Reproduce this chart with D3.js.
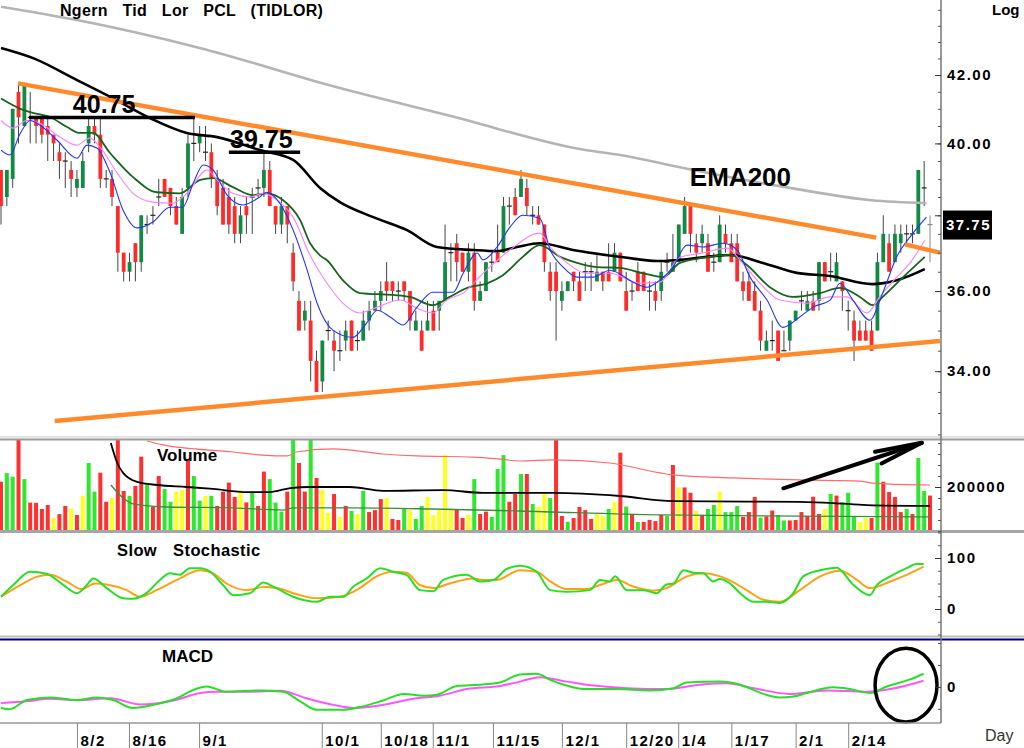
<!DOCTYPE html>
<html>
<head>
<meta charset="utf-8">
<script src="https://cdn.jsdelivr.net/npm/d3@7"></script>
<style>
body { margin: 0; background: #fff; }
svg { display: block; font-family: "Liberation Sans", Arial, sans-serif; }
</style>
</head>
<body>
<svg id="chart"></svg>
<script>
// daily OHLC, one entry per trading day
const opens = [39.25,38.5,39,41.5,40.5,40.75,40.75,40.75,40.5,40.25,39.75,39.5,39.25,38.75,38.75,40,40.5,40.25,39,39,
  38.25,37,36.5,37.25,36.75,37.75,38,38.5,39,38.75,38.25,37.5,38.75,40,40,39.75,39.75,39,38.75,38.5,
  38.25,37.5,38.25,38.5,38.75,38.75,39.25,38.25,37.75,38.25,37,35.75,35.25,35.25,34.25,33.75,35,34.75,34.5,34.75,
  35.25,34.75,34.75,35.25,35.5,35.75,36.25,36.25,36,36.25,36,35,35,35,35.5,35.5,35.75,37,37.25,37,
  36.5,37,35.75,36,36.75,37,37,38.25,38.5,38.5,38.75,38,38,37.75,36.5,36.5,35.75,36,36.5,36.25,
  36.5,36.5,36.25,36.5,36.5,36.5,37,36,36,36.5,36.5,36,36,36,36.75,36.5,36.75,37.5,38.25,37.25,
  37.25,37.25,36.75,36.75,37.5,37.25,37.25,36.25,36.25,36,35.5,34.5,34.75,35,34.5,34.75,35.25,35.75,35.5,35.75,
  35.75,36.75,36.5,36.25,36.25,35.5,35.25,35,35,35,35,36.75,37.25,36.75,37.25,37.5,37.5,37.5,38.75,37.75];
const highs = [39.25,39.25,41,41.75,41.75,41.5,40.75,40.75,40.75,40.25,40,39.75,39.5,39.25,39.75,40.75,40.75,40.75,39.25,39.25,
  38.25,37,37,37.25,38,38,38.25,39,39,38.75,38.5,38.75,40.25,40.75,40.5,40.5,40,39.25,39,38.75,
  38.5,38.25,38.5,38.75,39,39.75,39.5,38.25,38.5,38.25,37.25,36,35.75,35.75,34.5,34.75,35.25,35,35,35.25,
  35.25,35,35.5,35.75,36,36.25,36.75,36.25,36.25,36.25,36,35.5,35.25,35.75,35.75,35.75,37.75,37.25,37.5,37,
  37.25,37.25,36.25,36.75,37,37.75,38.5,38.5,38.75,39.25,39,38.25,38.25,37.75,36.75,36.75,36.25,36.25,36.5,36.5,
  36.75,36.75,37,36.5,37.25,37.25,37,36.5,36.25,36.75,36.5,36.25,36.25,36.75,37,37.5,37.75,38.5,38.25,37.5,
  37.75,37.5,37,38,37.75,37.5,37.5,36.5,36.5,36.25,35.75,35,35.25,35,35,35.25,35.5,36,36,36,
  36.75,36.75,37,37,36.25,35.75,35.5,35.25,35.25,35.25,37,38,37.5,37.75,37.75,37.75,37.75,39.25,39.5,38];
const lows = [37.75,38.25,38.75,40,40.5,40,40,40,39.5,39.5,39,38.75,38.5,38.5,38.75,39.75,40,38.75,38.75,38.25,
  36.5,36.25,36.25,36.25,36.5,37.5,37.75,38.25,38.5,38,37.75,37.5,38.5,39.5,39.75,39.5,38.75,38,37.75,37.5,
  37.25,37.25,37.5,37.5,38.5,38.5,38.25,37.5,37.5,37.25,36,35,35,33.75,33.5,33.5,34.75,34,34.25,34.5,
  34.5,34.5,34.75,35,35.5,35.5,35.75,35.75,35.75,35.75,35,35,34.5,35,35,35,35.75,36.25,36.25,36.5,
  36.25,35.5,35.75,36,36.5,36.75,37,37.75,38,38.5,38,37.75,37.75,36.5,35.75,34.75,35.5,36,36,35.75,
  36,36,36.25,36,36.25,36.5,36.25,35.5,35.75,36,36,35.5,35.5,35.75,36.5,36.5,36.75,37.5,37,36.75,
  37,36.5,36.5,36.75,37,36.75,36.25,35.75,35.75,35.5,34.5,34.5,34.5,34.25,34.5,34.5,35.25,35.5,35.5,35.5,
  35.5,36.25,36.25,36.25,35.5,35,34.25,34.75,34.75,34.5,35,36.75,36.5,36.75,37,37.25,37.25,37.5,38.25,36.75];
const closes = [38.25,39.25,41,40.75,41.75,40.75,40.5,40.25,40.25,40,39.5,39.5,39,39,39.5,40.5,40.25,39,39,38.5,
  37,36.5,36.75,36.75,38,37.75,38,38.5,38.5,38.25,37.75,38.5,40,40,40.25,39.75,39,38.25,37.75,37.75,
  37.5,38,38,38.5,38.75,39.25,38.25,37.75,38.25,37.75,36.25,35,35.5,34.25,33.5,34.75,35,34.5,34.5,35,
  34.5,34.75,35.25,35.5,35.75,36,36,36,36,36,35.25,35.25,34.5,35.25,35,35.75,36.75,37,36.75,36.5,
  37,35.75,36,36.75,36.75,36.75,38.25,38.25,38,39,38.25,38,37.75,36.75,36,36,36,36.25,36.25,35.75,
  36.5,36.5,36.5,36.25,36.25,37,36.25,35.5,36,36,36,36,35.75,36.5,36.75,36.75,37.75,38.25,37.5,37,
  37.5,36.5,36.75,37.75,37.25,36.75,36.25,36,35.75,35.5,34.75,34.75,34.75,34.25,34.5,35.25,35.5,35.75,35.75,35.5,
  36.75,36.25,36.5,36.75,36,35.5,34.75,34.75,34.75,34.5,36.75,37.5,36.5,37.5,37.5,37.5,37.5,39.25,38.75,37.75];

// volume (thousand shares) and bar colour class: u = up, d = down, n = unchanged
const volume = [224,263,247,430,236,129,128,100,118,59,77,114,102,73,160,309,179,265,133,150,
  430,182,160,205,338,213,111,250,191,133,179,186,327,250,138,159,160,114,179,220,
  155,186,130,174,114,270,236,129,88,179,430,309,179,430,241,186,83,168,64,114,
  91,77,182,86,95,145,150,55,50,102,95,55,114,155,73,95,345,102,100,59,
  73,236,77,88,64,282,345,133,168,259,259,123,111,168,150,430,68,42,59,109,
  95,55,80,68,100,133,356,111,77,41,41,50,45,73,68,300,198,198,174,91,
  73,100,118,179,86,86,114,64,86,155,61,66,93,73,48,48,50,86,68,156,
  77,100,168,161,130,174,64,41,59,59,311,224,177,155,86,100,77,332,182,161];
const volDir = "duududdddnddndnuuddnd" +
  "duddudduunnduunuddddndudduuududdudnndn" +
  "dunudddnddunuunnnnnddnudduuuddudunnudd" +
  "uddddnnundududdddudnddnduunuuudddudduud" +
  "dddddnuduuunndudddduduudnudu";

// moving averages: [day index, price]
const ema200 = [[0,44.1],[13,43.68],[34,42.82],[58,41.61],[77,40.79],[100,39.81],[106,39.67],[116,39.33],[123,39.1],[135,38.75],[149,38.41],[158.4,38.33]];
const maBlack = [[0,42.82],[5.5,42.51],[13,41.85],[18.7,41.35],[25.5,40.73],[31.8,40.3],[37,40.18],[44.3,39.81],[50,39.53],[54.6,38.75],[58,38.36],[63.7,37.95],[69.5,37.6],[74.6,37.15],[80.8,37.07],[84.9,37.04],[88.3,37.15],[92.2,37.25],[97.9,37.07],[106.5,36.88],[112.3,36.78],[116.2,36.81],[124.8,36.94],[130.4,36.73],[136.2,36.47],[141.9,36.39],[149.1,36.18],[153.3,36.28],[158.1,36.57]];
const maGreen = [[0,41.3],[3.3,41.0],[5,40.9],[8.4,40.76],[11.3,40.47],[13.5,40.3],[15.7,40.3],[18.7,39.72],[22.6,39.05],[26.7,38.63],[30.6,38.6],[34.1,38.97],[36.3,39.02],[39.7,38.77],[43.1,38.55],[45.5,38.6],[48.3,38.41],[51.2,37.87],[52.9,37.25],[54.6,36.93],[55.8,36.8],[58.5,36.28],[61.4,35.95],[67.1,35.9],[70,35.85],[73.9,35.64],[76.8,35.85],[79.8,36.08],[83.2,36.2],[85.9,36.41],[89.3,36.89],[92.2,37.2],[95.7,36.89],[98.6,36.73],[102,36.62],[105.9,36.6],[109.9,36.46],[113.3,36.36],[116.2,36.73],[120.1,36.86],[124.8,36.94],[127.7,36.67],[131.6,36.1],[135.5,35.85],[140.2,35.95],[143.6,36.08],[147,35.85],[149.2,35.64],[150.9,35.85],[154.4,36.36],[158.1,36.89]];
const maPink = [[0,40.66],[2.1,40.44],[4.4,40.66],[6.7,40.57],[10.1,40.18],[13,39.95],[15.2,40.15],[16.9,39.9],[19.9,39.16],[22.6,38.6],[26,38.36],[29.4,38.33],[31.8,38.6],[35.3,39.25],[37,38.97],[39.7,38.6],[42.6,38.5],[44.8,38.6],[47.7,38.36],[50,37.95],[52.9,36.93],[55.8,36.2],[58.5,35.69],[61.4,35.44],[64.4,35.59],[68.3,35.77],[71.2,35.56],[73.9,35.44],[76.3,35.77],[79.1,35.95],[82.5,36.46],[87.1,37.07],[92.2,37.52],[94,37.15],[96.9,36.73],[100.3,36.46],[104.2,36.46],[109.4,36.2],[112.8,36.23],[116.2,36.88],[120.1,36.99],[124.3,37.12],[126.5,36.8],[129.9,36.2],[133.3,35.77],[137.9,35.69],[141.9,35.85],[144.8,35.85],[148.2,35.44],[150.4,35.85],[153.3,36.36],[155.6,36.73],[158.1,37.33]];
const maBlue = [[0,39.81],[1.5,39.67],[3.3,40.29],[5,40.66],[6.7,40.52],[9.6,40.09],[13,39.58],[14.7,39.95],[16.4,39.87],[18.7,39.16],[20.9,38.14],[23.3,37.66],[26,37.82],[28.9,38.22],[31.1,38.22],[32.9,38.88],[34.6,39.39],[36.3,39.25],[38.7,38.55],[41.4,38.28],[44.3,38.5],[45.5,38.63],[47.7,38.33],[50,37.6],[52.4,36.54],[54.1,35.69],[56.8,35.01],[60.2,34.83],[62.6,35.19],[64.4,35.51],[66.6,35.34],[68.8,35.14],[71.2,35.59],[73.9,35.97],[77.4,35.97],[79.1,36.46],[81.5,36.99],[82.5,36.81],[84.9,37.15],[87.1,37.68],[89.3,38.0],[92.2,37.92],[94,37.07],[96.2,36.62],[98.6,36.36],[101.3,36.36],[104.2,36.54],[108.2,36.23],[110.6,36.1],[112.3,36.23],[115,36.62],[117.4,37.2],[120.1,37.15],[123.6,37.25],[126,37.07],[128.2,36.36],[131.1,35.77],[133.8,35.08],[136.7,35.34],[139,35.59],[141.9,35.77],[143.6,36.2],[145.8,35.77],[148.7,35.26],[150.9,35.95],[153.3,36.89],[156.1,37.52],[158.4,37.95]];

// volume averages: [day index, thousand shares]
const volAvgRed = [[25,409],[27.7,391],[39.7,359],[44.8,345],[49,341],[50.5,359],[56.8,373],[65.4,350],[71.2,341],[80.8,336],[85.4,327],[88.8,318],[94.5,323],[104.2,309],[112.8,264],[115,255],[125.3,241],[136.7,232],[147,227],[149.2,218],[159,209]];
const volAvgBlack = [[18.8,400],[19.9,309],[20.9,264],[23.3,223],[26.7,209],[31.8,200],[36.3,191],[42.1,177],[46,177],[49.5,195],[52.9,200],[59.7,200],[65.4,182],[75.7,186],[82.5,173],[94.5,173],[105.9,159],[115,136],[136.7,132],[142.4,127],[148.2,118],[159,114]];
const volAvgGreen = [[18.8,209],[20.9,150],[22.6,123],[28.4,109],[39.7,105],[48.3,95],[50,105],[59.7,105],[73.9,100],[88.8,91],[112.8,73],[136.7,68],[159,64]];

// slow stochastic %K and %D
const stochK = [[0,24],[2.1,47],[5,73],[7.8,69],[10.7,47],[13,31],[14.7,47],[15.8,60],[18.1,41],[20.9,21],[22.6,20],[24.9,31],[27.2,57],[28.9,70],[30.6,67],[32.3,80],[34.1,80],[35.8,73],[38,47],[39.8,27],[42.6,31],[44.9,52],[46.6,44],[50,24],[54,14],[56.3,24],[58.6,24],[60.3,44],[62.6,60],[64.9,80],[67.1,73],[69.4,67],[71.7,37],[74,35],[75.7,57],[79.7,67],[82,54],[84.3,57],[86.5,78],[88.8,85],[91.7,73],[94,37],[96.8,34],[100.8,37],[102.5,57],[104.2,54],[105.1,64],[107.1,37],[109.9,37],[112.2,31],[113.9,48],[115.1,50],[116.8,76],[118.5,71],[120.2,70],[121.9,54],[123,59],[124.8,50],[126.5,31],[128.8,14],[131,14],[133.3,12],[135.6,31],[137.3,64],[140.2,76],[143,81],[145.9,47],[148.7,27],[149.9,47],[152.2,64],[155,80],[156.7,88],[157.9,88]];
const stochD = [[0,24],[3.3,47],[6.1,63],[8.4,67],[11.2,54],[13.8,39],[16.1,50],[18.1,48],[21.5,37],[23.8,24],[26.6,37],[30.1,57],[34.1,76],[36.3,70],[38.6,50],[42,37],[44.9,43],[47.2,41],[51.2,27],[54,21],[58,24],[61.4,41],[64.3,64],[67.1,73],[69.4,71],[71.7,47],[74,41],[76.8,50],[80.8,60],[82.5,57],[84.8,57],[88.8,76],[91.7,73],[94,54],[96.8,39],[100.2,39],[102.5,47],[105.4,57],[108.2,44],[111.6,36],[113.9,41],[117.4,64],[120.2,70],[124.2,59],[127.6,37],[130.5,18],[133.3,14],[136.7,37],[140.2,64],[143.6,75],[146.5,57],[148.7,41],[152.2,54],[155,67],[157.9,83]];

// MACD line and signal line
const macdLine = [[0,-0.48],[1.5,-0.51],[4.4,-0.3],[8.4,-0.24],[13,-0.3],[16.4,-0.24],[19.2,-0.3],[22.6,-0.48],[26.1,-0.41],[30.1,-0.26],[32.9,-0.07],[35.2,0.01],[38.6,-0.11],[44.3,-0.08],[48.3,-0.11],[51.2,-0.33],[54,-0.52],[58.6,-0.52],[61.4,-0.46],[65.4,-0.31],[68.9,-0.16],[72.3,-0.2],[74.6,-0.18],[78,0.02],[82,0.05],[85.4,0.1],[88.8,0.28],[91.7,0.3],[94,0.16],[96.8,0.03],[99.7,-0.05],[105.4,-0.05],[111.1,-0.08],[115.1,-0.03],[117.4,0.1],[123,0.12],[126.5,0.05],[130.5,-0.16],[133.3,-0.24],[135.6,-0.22],[137.9,-0.14],[142.4,-0.01],[145.3,-0.05],[148.7,-0.14],[151.6,0.01],[155.6,0.17],[157.9,0.3]];
const macdSignal = [[0,-0.37],[4.4,-0.33],[8.4,-0.27],[13,-0.3],[18.7,-0.26],[23.8,-0.4],[29.5,-0.31],[34.1,-0.14],[36.9,-0.11],[42.6,-0.11],[47.8,-0.09],[52.3,-0.26],[56.9,-0.41],[60.3,-0.48],[64.9,-0.42],[71.1,-0.26],[75.1,-0.2],[79.7,-0.05],[85.4,0.02],[88.8,0.12],[92.2,0.22],[96.8,0.12],[101.4,0.03],[107.1,-0.03],[113.9,-0.05],[119.6,0.05],[124.2,0.08],[128.8,-0.03],[135,-0.16],[141.3,-0.08],[148.2,-0.11],[152.2,-0.05],[157.9,0.14]];

// drawn annotations (day index, price)
const upperTrend = [[2.9,41.75],[149.8,37.4]];
const upperTrend2 = [[154.7,37.22],[160.7,37.0]];
const lowerTrend = [[9.2,32.81],[160.7,34.74]];
const levelLines = [{price: 40.75, from: 4.8, to: 33.2, labelAt: 12.3}, {price: 39.75, from: 39.0, to: 51.2, labelAt: 39.2}];
const lastPrice = 37.75;

// axis labels (38.00 sits under the last-price tag)
const dateLabels = ["8/2","8/16","9/1","10/1","10/18","11/1","11/15","12/1","12/20","1/4","1/17","2/1","2/14"];
const dateIdx = [13,21.9,33.9,54.9,65,73.9,84.2,96,107,115.9,125,136,145];
const priceMajor = [34, 36, 38, 40, 42];
const priceLabels = [34, 36, 40, 42];

const W = 1024, H = 748, AX = 941;
const svg = d3.select("#chart").attr("width", W).attr("height", H);

const x = d3.scaleLinear().domain([0, 159]).range([1, 930]);
const y = d3.scaleLog().domain([32.44, 44.31]).range([437, 0]);
const yv = d3.scaleLinear().domain([0, 409]).range([531, 441]);
const ys = d3.scaleLinear().domain([0, 100]).range([609, 558]);
const ym = d3.scaleLinear().domain([-0.8, 1.068]).range([722, 640]);

const defs = svg.append("defs");
[["cp-price", 0, 0, AX, 437], ["cp-vol", 0, 440, AX, 90], ["cp-st", 0, 533, AX, 103], ["cp-macd", 0, 640, AX, 83]]
  .forEach(([id, cx, cy, cw, ch]) => defs.append("clipPath").attr("id", id)
    .append("rect").attr("x", cx).attr("y", cy).attr("width", cw).attr("height", ch));

const line = (sc) => d3.line().x(d => x(d[0])).y(d => sc(d[1])).curve(d3.curveMonotoneX);
const bold = sel => sel.attr("font-weight", "bold").attr("fill", "#000");

// ---- price panel
const gP = svg.append("g").attr("clip-path", "url(#cp-price)");
const idx = d3.range(opens.length);
const last = opens.length - 1;

gP.append("g").selectAll("line").data(idx).join("line")
  .attr("x1", i => x(i)).attr("x2", i => x(i))
  .attr("y1", i => y(highs[i])).attr("y2", i => y(lows[i]))
  .attr("stroke", i => i === last ? "#888" : "#444").attr("stroke-width", 1);

gP.append("g").selectAll("rect").data(idx.filter(i => opens[i] !== closes[i])).join("rect")
  .attr("x", i => x(i) - 1.9).attr("width", 3.8)
  .attr("y", i => y(Math.max(opens[i], closes[i])))
  .attr("height", i => Math.abs(y(opens[i]) - y(closes[i])))
  .attr("fill", i => closes[i] > opens[i] ? "#138a43" : "#ff2b2b");

gP.append("g").selectAll("line").data(idx.filter(i => opens[i] === closes[i])).join("line")
  .attr("x1", i => x(i) - 2.5).attr("x2", i => x(i) + 2.5)
  .attr("y1", i => y(closes[i])).attr("y2", i => y(closes[i]))
  .attr("stroke", i => i === last ? "#888" : "#222").attr("stroke-width", 1.2);

[[ema200, "#b4b4b4", 2.6], [maBlack, "#000", 2.6], [maGreen, "#17651c", 1.8], [maPink, "#ff80ff", 1.1], [maBlue, "#2233ff", 1.1]]
  .forEach(([d, c, w]) => gP.append("path").attr("d", line(y)(d)).attr("fill", "none").attr("stroke", c).attr("stroke-width", w));

[upperTrend, upperTrend2, lowerTrend].forEach(d =>
  gP.append("path").attr("d", d3.line().x(p => x(p[0])).y(p => y(p[1]))(d))
    .attr("fill", "none").attr("stroke", "#ff8a2b").attr("stroke-width", 4.5));

levelLines.forEach(l => {
  gP.append("line").attr("x1", x(l.from)).attr("x2", x(l.to)).attr("y1", y(l.price)).attr("y2", y(l.price))
    .attr("stroke", "#000").attr("stroke-width", 3.5);
  gP.append("text").attr("x", x(l.labelAt)).attr("y", y(l.price) - 4).attr("font-size", 25)
    .call(bold).text(d3.format(".2f")(l.price));
});

svg.append("text").attr("x", x(117.9)).attr("y", y(38.8)).attr("font-size", 26).call(bold).text("EMA200");
svg.append("text").attr("x", 60).attr("y", 16).attr("font-size", 16).attr("word-spacing", 10).attr("letter-spacing", 0.3).call(bold)
  .text("Ngern Tid Lor PCL (TIDLOR)");
svg.append("text").attr("x", 992).attr("y", 15).attr("font-size", 15).call(bold).text("Log");

// ---- volume panel
const gV = svg.append("g").attr("clip-path", "url(#cp-vol)");
const volColor = {u: "#2ee82e", d: "#ff3030", n: "#ffff1a"};
gV.selectAll("rect").data(idx).join("rect")
  .attr("x", i => x(i) - 2).attr("width", 4)
  .attr("y", i => yv(volume[i])).attr("height", i => yv(0) - yv(volume[i]))
  .attr("fill", i => volColor[volDir[i]]);
[[volAvgRed, "#ff6a6a", 1.2], [volAvgGreen, "#3f8a3f", 1.3], [volAvgBlack, "#000", 1.8]].forEach(([d, c, w]) =>
  gV.append("path").attr("d", line(yv)(d)).attr("fill", "none").attr("stroke", c).attr("stroke-width", w));
svg.append("text").attr("x", 157).attr("y", 461).attr("font-size", 17).call(bold).text("Volume");

const volArrow = [[133.9, 194], [157.6, 401]];
const volBarbs = [[149.6, 360], [157.6, 401], [150.7, 307]];
[volArrow, volBarbs].forEach(d => svg.append("path")
  .attr("d", d3.line().x(p => x(p[0])).y(p => yv(p[1]))(d))
  .attr("fill", "none").attr("stroke", "#000").attr("stroke-width", 4).attr("stroke-linecap", "round").attr("stroke-linejoin", "round"));

// ---- stochastic panel
const gS = svg.append("g").attr("clip-path", "url(#cp-st)");
gS.append("path").attr("d", line(ys)(stochD)).attr("fill", "none").attr("stroke", "#ffa014").attr("stroke-width", 2);
gS.append("path").attr("d", line(ys)(stochK)).attr("fill", "none").attr("stroke", "#26e026").attr("stroke-width", 2);
svg.append("text").attr("x", 117).attr("y", 556).attr("font-size", 16.5).attr("word-spacing", 11).attr("letter-spacing", 0.4).call(bold).text("Slow Stochastic");

// ---- MACD panel
const gM = svg.append("g").attr("clip-path", "url(#cp-macd)");
gM.append("path").attr("d", line(ym)(macdSignal)).attr("fill", "none").attr("stroke", "#ff55ff").attr("stroke-width", 2);
gM.append("path").attr("d", line(ym)(macdLine)).attr("fill", "none").attr("stroke", "#26e026").attr("stroke-width", 2);
svg.append("text").attr("x", 162).attr("y", 662).attr("font-size", 17).call(bold).text("MACD");

const ring = {i: 154.9, v: 0.04, di: 5.3, dv: 0.84};
svg.append("ellipse").attr("cx", x(ring.i)).attr("cy", ym(ring.v))
  .attr("rx", x(ring.i + ring.di) - x(ring.i)).attr("ry", ym(ring.v) - ym(ring.v + ring.dv))
  .attr("fill", "none").attr("stroke", "#000").attr("stroke-width", 3.5);

// ---- panel frames
[[437, "#c8c8c8", 1], [439.5, "#9a9a9a", 2], [531.5, "#a6a6a6", 3], [636.5, "#c0c0c0", 2], [639.5, "#000080", 2]]
  .forEach(([yy, c, w]) => svg.append("line").attr("x1", 0).attr("x2", W).attr("y1", yy).attr("y2", yy)
    .attr("stroke", c).attr("stroke-width", w));
svg.append("line").attr("x1", 0).attr("x2", AX).attr("y1", 723).attr("y2", 723).attr("stroke", "#999").attr("stroke-width", 1.5);
svg.append("line").attr("x1", AX).attr("x2", AX).attr("y1", 0).attr("y2", 723).attr("stroke", "#777").attr("stroke-width", 1.5);

// ---- right axes
function rightAxis(scale, minor, major, labels, fmt) {
  const g = svg.append("g").attr("transform", `translate(${AX},0)`);
  g.append("g").call(d3.axisLeft(scale).tickValues(minor).tickSize(3).tickFormat(""))
    .call(a => a.select(".domain").remove()).selectAll("line").attr("stroke", "#555");
  g.append("g").call(d3.axisLeft(scale).tickValues(major).tickSize(6).tickFormat(""))
    .call(a => a.select(".domain").remove()).selectAll("line").attr("stroke", "#333");
  g.append("g").call(d3.axisRight(scale).tickValues(labels).tickSize(0).tickPadding(6).tickFormat(fmt))
    .call(a => a.select(".domain").remove())
    .selectAll("text").attr("font-size", 15).attr("font-weight", "bold").attr("letter-spacing", 1.5)
    .attr("fill", "#000").attr("font-family", "Liberation Sans, Arial, sans-serif");
}
rightAxis(y, d3.range(32.5, 44.3, 0.5), priceMajor, priceLabels, d3.format(".2f"));
rightAxis(yv, d3.range(0, 410, 50), [200], [200], d => d3.format("d")(d * 1000));
rightAxis(ys, d3.range(-50, 151, 25), [0, 100], [0, 100], d3.format("d"));
rightAxis(ym, [-0.5, 0.5, 1.0], [0], [0], d3.format("d"));

// last price tag
svg.append("rect").attr("x", 943).attr("y", y(lastPrice) - 14).attr("width", 49).attr("height", 29).attr("fill", "#000");
svg.append("text").attr("x", 946).attr("y", y(lastPrice)).attr("dy", "0.36em").attr("font-size", 15)
  .attr("font-weight", "bold").attr("letter-spacing", 1.5).attr("fill", "#fff").text(d3.format(".2f")(lastPrice));

// ---- date axis
const gX = svg.append("g").attr("transform", "translate(0,723)")
  .call(d3.axisBottom(x).tickValues(dateIdx).tickSize(25).tickFormat((d, i) => dateLabels[i]))
  .call(a => a.select(".domain").remove());
gX.selectAll("line").attr("stroke", "#888");
gX.selectAll("text").attr("x", 3).attr("y", 12).attr("dy", "0.71em").attr("text-anchor", "start")
  .attr("font-size", 15).attr("font-weight", "bold").attr("letter-spacing", 1.5).attr("fill", "#000")
  .attr("font-family", "Liberation Sans, Arial, sans-serif");
svg.append("text").attr("x", 985).attr("y", 741).attr("font-size", 16).attr("fill", "#333").text("Day");
</script>
</body>
</html>
